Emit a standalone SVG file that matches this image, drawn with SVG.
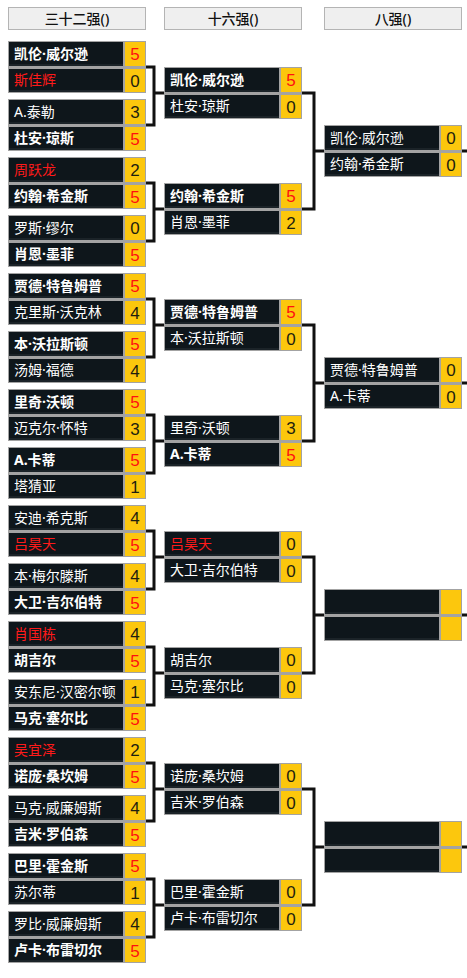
<svg xmlns="http://www.w3.org/2000/svg" xmlns:xlink="http://www.w3.org/1999/xlink" width="467" height="978" viewBox="0 0 467 978">
<style>
.bg{fill:#ffffff}
.hd{fill:#efefef;stroke:#b4b4b4;stroke-width:1}
.ht{font-family:"Noto Sans","Noto Sans CJK SC",sans-serif;font-size:14px;fill:#111111;text-anchor:middle;font-weight:500}
.frame{fill:#a3a3a3}
.nm{fill:#0e161b}
.nm2{fill:#1b2328}
.sc{fill:#fcc70d}
.n{font-family:"Noto Sans","Noto Sans CJK SC",sans-serif;font-size:14px;fill:#ffffff}
.b{font-weight:bold}
.r{fill:#ff1a1a}
.s{font-family:"Liberation Sans",Arial,sans-serif;font-size:17px;text-anchor:middle;fill:#1e1e10}
.w{fill:#ff1010}
.ln{fill:none;stroke:#111111;stroke-width:3}
</style>
<defs>
<g id="pair">
<rect class="frame" x="0" y="0" width="138" height="52"/>
<rect class="nm" x="1" y="1" width="114" height="24"/>
<rect class="nm2" x="1" y="23" width="114" height="2"/>
<rect class="sc" x="117" y="1" width="20" height="24"/>
<rect class="nm" x="1" y="28" width="114" height="23"/>
<rect class="nm2" x="1" y="49" width="114" height="2"/>
<rect class="sc" x="117" y="28" width="20" height="23"/>
</g>
</defs>
<rect class="bg" x="0" y="0" width="467" height="978"/>

<g id="headers">
<rect class="hd" x="8.5" y="7.5" width="137" height="22"/>
<text class="ht" x="77" y="23.5">三十二强()</text>
<rect class="hd" x="164.5" y="7.5" width="137" height="22"/>
<text class="ht" x="233" y="23.5">十六强()</text>
<rect class="hd" x="324.5" y="7.5" width="137" height="22"/>
<text class="ht" x="393" y="23.5">八强()</text>
</g>

<g id="connectors">
<path class="ln" d="M146 67H154V125H146M154 93H164"/>
<path class="ln" d="M146 183H154V241H146M154 209H164"/>
<path class="ln" d="M146 299H154V357H146M154 325H164"/>
<path class="ln" d="M146 415H154V473H146M154 441H164"/>
<path class="ln" d="M146 531H154V589H146M154 557H164"/>
<path class="ln" d="M146 647H154V705H146M154 673H164"/>
<path class="ln" d="M146 763H154V821H146M154 789H164"/>
<path class="ln" d="M146 879H154V937H146M154 905H164"/>
<path class="ln" d="M302 93H314V209H302M314 151H324"/>
<path class="ln" d="M302 325H314V441H302M314 383H324"/>
<path class="ln" d="M302 557H314V673H302M314 615H324"/>
<path class="ln" d="M302 789H314V905H302M314 847H324"/>
<path class="ln" d="M461 151H467M461 383H467M461 615H467M461 847H467"/>
</g>

<g id="r32-1" transform="translate(8,41)"><use xlink:href="#pair"/>
<text class="n b" x="6" y="18">凯伦·威尔逊</text><text class="s w" x="127" y="19">5</text>
<text class="n r" x="6" y="44">斯佳辉</text><text class="s" x="127" y="45.5">0</text></g>
<g id="r32-2" transform="translate(8,99)"><use xlink:href="#pair"/>
<text class="n" x="6" y="18">A.泰勒</text><text class="s" x="127" y="19">3</text>
<text class="n b" x="6" y="44">杜安·琼斯</text><text class="s w" x="127" y="45.5">5</text></g>
<g id="r32-3" transform="translate(8,157)"><use xlink:href="#pair"/>
<text class="n r" x="6" y="18">周跃龙</text><text class="s" x="127" y="19">2</text>
<text class="n b" x="6" y="44">约翰·希金斯</text><text class="s w" x="127" y="45.5">5</text></g>
<g id="r32-4" transform="translate(8,215)"><use xlink:href="#pair"/>
<text class="n" x="6" y="18">罗斯·缪尔</text><text class="s" x="127" y="19">0</text>
<text class="n b" x="6" y="44">肖恩·墨菲</text><text class="s w" x="127" y="45.5">5</text></g>
<g id="r32-5" transform="translate(8,273)"><use xlink:href="#pair"/>
<text class="n b" x="6" y="18">贾德·特鲁姆普</text><text class="s w" x="127" y="19">5</text>
<text class="n" x="6" y="44">克里斯·沃克林</text><text class="s" x="127" y="45.5">4</text></g>
<g id="r32-6" transform="translate(8,331)"><use xlink:href="#pair"/>
<text class="n b" x="6" y="18">本·沃拉斯顿</text><text class="s w" x="127" y="19">5</text>
<text class="n" x="6" y="44">汤姆·福德</text><text class="s" x="127" y="45.5">4</text></g>
<g id="r32-7" transform="translate(8,389)"><use xlink:href="#pair"/>
<text class="n b" x="6" y="18">里奇·沃顿</text><text class="s w" x="127" y="19">5</text>
<text class="n" x="6" y="44">迈克尔·怀特</text><text class="s" x="127" y="45.5">3</text></g>
<g id="r32-8" transform="translate(8,447)"><use xlink:href="#pair"/>
<text class="n b" x="6" y="18">A.卡蒂</text><text class="s w" x="127" y="19">5</text>
<text class="n" x="6" y="44">塔猜亚</text><text class="s" x="127" y="45.5">1</text></g>
<g id="r32-9" transform="translate(8,505)"><use xlink:href="#pair"/>
<text class="n" x="6" y="18">安迪·希克斯</text><text class="s" x="127" y="19">4</text>
<text class="n r" x="6" y="44">吕昊天</text><text class="s w" x="127" y="45.5">5</text></g>
<g id="r32-10" transform="translate(8,563)"><use xlink:href="#pair"/>
<text class="n" x="6" y="18">本·梅尔滕斯</text><text class="s" x="127" y="19">4</text>
<text class="n b" x="6" y="44">大卫·吉尔伯特</text><text class="s w" x="127" y="45.5">5</text></g>
<g id="r32-11" transform="translate(8,621)"><use xlink:href="#pair"/>
<text class="n r" x="6" y="18">肖国栋</text><text class="s" x="127" y="19">4</text>
<text class="n b" x="6" y="44">胡吉尔</text><text class="s w" x="127" y="45.5">5</text></g>
<g id="r32-12" transform="translate(8,679)"><use xlink:href="#pair"/>
<text class="n" x="6" y="18">安东尼·汉密尔顿</text><text class="s" x="127" y="19">1</text>
<text class="n b" x="6" y="44">马克·塞尔比</text><text class="s w" x="127" y="45.5">5</text></g>
<g id="r32-13" transform="translate(8,737)"><use xlink:href="#pair"/>
<text class="n r" x="6" y="18">吴宜泽</text><text class="s" x="127" y="19">2</text>
<text class="n b" x="6" y="44">诺庞·桑坎姆</text><text class="s w" x="127" y="45.5">5</text></g>
<g id="r32-14" transform="translate(8,795)"><use xlink:href="#pair"/>
<text class="n" x="6" y="18">马克·威廉姆斯</text><text class="s" x="127" y="19">4</text>
<text class="n b" x="6" y="44">吉米·罗伯森</text><text class="s w" x="127" y="45.5">5</text></g>
<g id="r32-15" transform="translate(8,853)"><use xlink:href="#pair"/>
<text class="n b" x="6" y="18">巴里·霍金斯</text><text class="s w" x="127" y="19">5</text>
<text class="n" x="6" y="44">苏尔蒂</text><text class="s" x="127" y="45.5">1</text></g>
<g id="r32-16" transform="translate(8,911)"><use xlink:href="#pair"/>
<text class="n" x="6" y="18">罗比·威廉姆斯</text><text class="s" x="127" y="19">4</text>
<text class="n b" x="6" y="44">卢卡·布雷切尔</text><text class="s w" x="127" y="45.5">5</text></g>

<g id="r16-1" transform="translate(164,67)"><use xlink:href="#pair"/>
<text class="n b" x="6" y="18">凯伦·威尔逊</text><text class="s w" x="127" y="19">5</text>
<text class="n" x="6" y="44">杜安·琼斯</text><text class="s" x="127" y="45.5">0</text></g>
<g id="r16-2" transform="translate(164,183)"><use xlink:href="#pair"/>
<text class="n b" x="6" y="18">约翰·希金斯</text><text class="s w" x="127" y="19">5</text>
<text class="n" x="6" y="44">肖恩·墨菲</text><text class="s" x="127" y="45.5">2</text></g>
<g id="r16-3" transform="translate(164,299)"><use xlink:href="#pair"/>
<text class="n b" x="6" y="18">贾德·特鲁姆普</text><text class="s w" x="127" y="19">5</text>
<text class="n" x="6" y="44">本·沃拉斯顿</text><text class="s" x="127" y="45.5">0</text></g>
<g id="r16-4" transform="translate(164,415)"><use xlink:href="#pair"/>
<text class="n" x="6" y="18">里奇·沃顿</text><text class="s" x="127" y="19">3</text>
<text class="n b" x="6" y="44">A.卡蒂</text><text class="s w" x="127" y="45.5">5</text></g>
<g id="r16-5" transform="translate(164,531)"><use xlink:href="#pair"/>
<text class="n r" x="6" y="18">吕昊天</text><text class="s" x="127" y="19">0</text>
<text class="n" x="6" y="44">大卫·吉尔伯特</text><text class="s" x="127" y="45.5">0</text></g>
<g id="r16-6" transform="translate(164,647)"><use xlink:href="#pair"/>
<text class="n" x="6" y="18">胡吉尔</text><text class="s" x="127" y="19">0</text>
<text class="n" x="6" y="44">马克·塞尔比</text><text class="s" x="127" y="45.5">0</text></g>
<g id="r16-7" transform="translate(164,763)"><use xlink:href="#pair"/>
<text class="n" x="6" y="18">诺庞·桑坎姆</text><text class="s" x="127" y="19">0</text>
<text class="n" x="6" y="44">吉米·罗伯森</text><text class="s" x="127" y="45.5">0</text></g>
<g id="r16-8" transform="translate(164,879)"><use xlink:href="#pair"/>
<text class="n" x="6" y="18">巴里·霍金斯</text><text class="s" x="127" y="19">0</text>
<text class="n" x="6" y="44">卢卡·布雷切尔</text><text class="s" x="127" y="45.5">0</text></g>

<g id="qf-1" transform="translate(324,125)"><use xlink:href="#pair"/>
<text class="n" x="6" y="18">凯伦·威尔逊</text><text class="s" x="127" y="19">0</text>
<text class="n" x="6" y="44">约翰·希金斯</text><text class="s" x="127" y="45.5">0</text></g>
<g id="qf-2" transform="translate(324,357)"><use xlink:href="#pair"/>
<text class="n" x="6" y="18">贾德·特鲁姆普</text><text class="s" x="127" y="19">0</text>
<text class="n" x="6" y="44">A.卡蒂</text><text class="s" x="127" y="45.5">0</text></g>
<g id="qf-3" transform="translate(324,589)"><use xlink:href="#pair"/></g>
<g id="qf-4" transform="translate(324,821)"><use xlink:href="#pair"/></g>
</svg>
